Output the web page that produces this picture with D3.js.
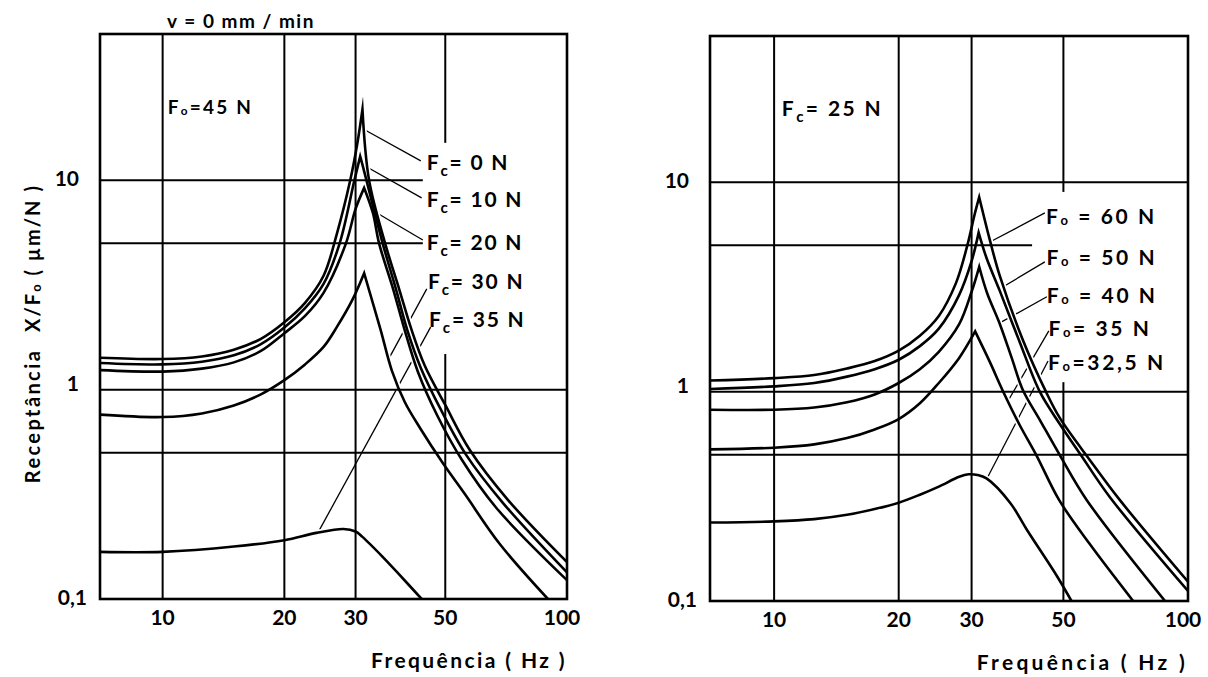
<!DOCTYPE html>
<meta charset="utf-8">
<script src="https://cdn.jsdelivr.net/npm/d3@7"></script>
<style>
  body { margin: 0; background: #fff; }
  text { font-family: Lato, "DejaVu Sans", sans-serif; font-weight: 700; fill: #000; }
</style>
<body>
<div id="chart"></div>
<script>
// axes
var freqDomain = [7, 100];
var recDomain = [0.1, 50];
var freqTicks = [10, 20, 30, 50, 100];
var freqGrid = [10, 20, 30, 50];
var recTicks = [0.1, 1, 10];
var recTickText = ["0,1", "1", "10"];
var recGrid = [0.5, 1, 5, 10];

// left panel, Fo = 45 N  -> [Hz, um/N]
var fc0 = [[7,1.42],[10,1.40],[12.5,1.44],[15,1.55],[17.5,1.75],[20,2.1],[22.5,2.6],[25,3.5],[27,5.6],
  [29.1,10],[30.3,15],[31.2,21.8],
  [32.4,10],[35.5,5],[38.5,3],[41.2,1.95],[44.5,1.3],[50,0.845],[57.5,0.515],[71.5,0.297],[100,0.15]];
var fc10 = [[7,1.34],[10,1.32],[12.5,1.36],[15,1.46],[17.5,1.65],[20,1.98],[22.5,2.45],[25,3.2],[27.4,5],
  [29.8,10],[30.8,13],
  [31.3,11.6],[35,5],[37.8,3],[40.3,1.92],[43.5,1.27],[48.8,0.80],[56.3,0.488],[69.4,0.288],[100,0.134]];
var fc20 = [[7,1.24],[10,1.22],[12.5,1.26],[15,1.35],[17.5,1.53],[20,1.86],[22.5,2.25],[25,2.9],[28.4,5],
  [30,7.3],[31.5,9.2],
  [33.1,7],[34.3,5],[37.2,3],[39.7,1.92],[42.8,1.215],[47.7,0.757],[55,0.461],[66.9,0.272],[100,0.123]];
var fc30 = [[7,0.76],[10,0.74],[12.5,0.77],[15,0.84],[17.5,0.95],[20,1.11],[22.5,1.32],[25,1.6],[27,2.0],
  [29.5,2.7],[31.5,3.6],
  [34.6,1.93],[36.9,1.23],[39.7,0.873],[43.3,0.656],[49.3,0.446],[55.9,0.317],[68.2,0.183],[89.7,0.1]];
var fc35 = [[7,0.168],[10,0.168],[15,0.178],[20,0.191],[24,0.207],[28,0.216],[30,0.21],[31.2,0.198],
  [35,0.159],[38.6,0.13],[43.7,0.1]];
var leftNames = ["= 0 N", "= 10 N", "= 20 N", "= 30 N", "= 35 N"];
var leftLabelAt = [[45,12.1],[45,8.06],[45,5.02],[45.3,3.27],[45.6,2.15]];
var leftLeaders = [[[31.5,17.5],[43.5,12.38]], [[31.2,11.9],[43.7,8.24]], [[33,7.2],[44,5.19]],
  [[45,3.03],[36.2,1.4]], [[46,1.99],[24.2,0.207]]];

// right panel, Fc = 25 N
var fo60 = [[7,1.13],[10,1.16],[12.5,1.2],[15,1.29],[17.5,1.4],[20,1.57],[22.5,1.85],[25,2.3],[27.5,3.3],
  [29.3,5],[30.5,7],[31.3,8.49],
  [33.2,5.31],[35.1,3.57],[39.9,1.766],[45.4,0.997],[49,0.749],[57.9,0.472],[68.4,0.304],[100,0.1236]];
var fo50 = [[7,1.03],[10,1.06],[12.5,1.1],[15,1.18],[17.5,1.28],[20,1.42],[22.5,1.65],[25,2.0],[28,2.9],
  [30,4.2],[31.2,5.75],
  [32.6,4.35],[35.1,3.03],[39.2,1.728],[43.87,0.997],[49,0.701],[55.1,0.498],[64.7,0.314],[100,0.1116]];
var fo40 = [[7,0.82],[10,0.82],[12.5,0.84],[15,0.89],[17.5,0.97],[20,1.1],[22.5,1.28],[25,1.55],[28,2.1],
  [30,3.0],[31.3,3.95],
  [32.7,2.96],[35.1,2.106],[37.5,1.449],[39.9,1.019],[43.87,0.732],[49,0.498],[56.9,0.304],[88,0.1]];
var fo35 = [[7,0.53],[10,0.54],[12.5,0.56],[15,0.6],[17.5,0.66],[20,0.74],[22.5,0.88],[25,1.1],[28,1.45],
  [30.6,1.94],
  [33.2,1.387],[35.8,0.997],[39.2,0.693],[43,0.498],[48.8,0.304],[57.9,0.187],[73.7,0.1]];
var fo325 = [[7,0.237],[10,0.24],[12.5,0.246],[15,0.258],[17.5,0.275],[20,0.295],[22.5,0.322],[25,0.352],
  [28,0.392],[29.5,0.403],[31,0.40],[32.6,0.385],[37.2,0.294],[40.8,0.219],[48.3,0.131],[52.3,0.1]];
var rightNames = [" = 60 N", " = 50 N", " = 40 N", "= 35 N", "=32,5 N"];
var rightLabelAt = [[45.4,6.83],[45.5,4.35],[45.6,2.87],[46,1.99],[45.9,1.37]];
var rightLeaders = [[[45.1,7.14],[33.3,5.2]], [[45.1,4.17],[35.1,3.1]], [[45.6,2.84],[35.1,2.13]],
  [[46.1,1.95],[36.7,0.9]], [[45.9,1.40],[32.8,0.39]]];

var W = 1208, H = 677;
var svg = d3.select("#chart").append("svg").attr("width", W).attr("height", H);

var panels = [
  { id: "L", box: [100, 567, 34, 599], series: [fc0, fc10, fc20, fc30, fc35],
    sharp: [true, true, true, true, false], sub: "c", names: leftNames, labelAt: leftLabelAt,
    leaders: leftLeaders, labelSpacing: 1.8,
    note: ["o", "=45 N", [10.3, 22.3], 19, 2.2],
    hEnd: {10: 44, 5: 44}, vGap: {50: [1.48, 15.1]},
    title: "Frequência  ( Hz )", titleSpacing: 2.4 },
  { id: "R", box: [710, 1188, 36, 601], series: [fo60, fo50, fo40, fo35, fo325],
    sharp: [true, true, true, true, false], sub: "o", names: rightNames, labelAt: rightLabelAt,
    leaders: rightLeaders, labelSpacing: 2.6,
    note: ["c", "= 25 N", [10.44, 22.3], 21, 2.4],
    hEnd: {5: 42}, vGap: {50: [1.11, 9]},
    title: "Frequência ( Hz )", titleSpacing: 3.3 }
];

function forceText(g, x, y, sub, rest, size, spacing) {
  var t = g.append("text").attr("x", x).attr("y", y).attr("font-size", size)
    .attr("letter-spacing", spacing);
  t.append("tspan").text("F");
  if (sub == "c") {
    t.append("tspan").attr("font-size", size * 0.72).attr("dy", size * 0.28).text("c");
    t.append("tspan").attr("dy", -size * 0.28).text(rest);
  } else {
    t.append("tspan").attr("font-size", size * 0.62).attr("dy", size * 0.04).text("o");
    t.append("tspan").attr("dy", -size * 0.04).text(rest);
  }
  return t;
}

panels.forEach(function(p) {
  var b = p.box;
  var x = d3.scaleLog().domain(freqDomain).range([b[0], b[1]]);
  var y = d3.scaleLog().domain(recDomain).range([b[3], b[2]]);
  var g = svg.append("g");

  g.append("clipPath").attr("id", "clip" + p.id).append("rect")
    .attr("x", b[0]).attr("y", b[2]).attr("width", b[1] - b[0]).attr("height", b[3] - b[2]);

  var line = d3.line().x(function(d) { return x(d[0]); }).y(function(d) { return y(d[1]); })
    .curve(d3.curveCatmullRom.alpha(0.5));

  // sharp resonance: draw the two flanks separately so the peak stays a cusp
  function curvePath(data, sharp) {
    if (!sharp) return line(data);
    var k = d3.maxIndex(data, function(d) { return d[1]; });
    var rise = line(data.slice(0, k + 1));
    var fall = line(data.slice(k));
    return rise + fall.replace(/^M[^A-Za-z]*/, "");
  }

  // leaders first, curve halos cut them
  g.selectAll(".leader").data(p.leaders).enter().append("line")
    .attr("x1", function(d) { return x(d[0][0]); }).attr("y1", function(d) { return y(d[0][1]); })
    .attr("x2", function(d) { return x(d[1][0]); }).attr("y2", function(d) { return y(d[1][1]); })
    .attr("stroke", "#000").attr("stroke-width", 1.3);

  var paths = p.series.map(function(s, i) { return curvePath(s, p.sharp[i]); });

  g.append("g").attr("clip-path", "url(#clip" + p.id + ")")
    .selectAll("path").data(paths).enter().append("path")
    .attr("d", function(d) { return d; })
    .attr("fill", "none").attr("stroke", "#fff").attr("stroke-width", 6);

  // grid
  freqGrid.forEach(function(f) {
    var segs = [[recDomain[1], recDomain[0]]];
    if (p.vGap[f]) segs = [[recDomain[1], p.vGap[f][1]], [p.vGap[f][0], recDomain[0]]];
    segs.forEach(function(s) {
      g.append("line").attr("x1", x(f)).attr("x2", x(f)).attr("y1", y(s[0])).attr("y2", y(s[1]))
        .attr("stroke", "#000").attr("stroke-width", 2);
    });
  });
  recGrid.forEach(function(v) {
    var end = p.hEnd[v] || freqDomain[1];
    g.append("line").attr("x1", x(freqDomain[0])).attr("x2", x(end)).attr("y1", y(v)).attr("y2", y(v))
      .attr("stroke", "#000").attr("stroke-width", 2);
  });

  g.append("g").attr("clip-path", "url(#clip" + p.id + ")")
    .selectAll("path").data(paths).enter().append("path")
    .attr("d", function(d) { return d; })
    .attr("fill", "none").attr("stroke", "#000").attr("stroke-width", 2.6)
    .attr("stroke-linejoin", "miter").attr("stroke-miterlimit", 12);

  g.append("rect").attr("x", b[0]).attr("y", b[2]).attr("width", b[1] - b[0]).attr("height", b[3] - b[2])
    .attr("fill", "none").attr("stroke", "#000").attr("stroke-width", 2.6);

  // ticks
  freqTicks.forEach(function(f) {
    g.append("text").attr("x", x(f) - (f == 100 ? 5 : 0)).attr("y", b[3] + 26)
      .attr("text-anchor", "middle").attr("font-size", 21).text(f);
  });
  recTicks.forEach(function(v, i) {
    g.append("text").attr("x", b[0] - (v == 0.1 ? 13 : 21)).attr("y", y(v) + 6 - (v == 1 ? 5 : 0))
      .attr("text-anchor", "end").attr("font-size", 21).text(recTickText[i]);
  });

  // curve labels
  p.names.forEach(function(n, i) {
    forceText(g, x(p.labelAt[i][0]), y(p.labelAt[i][1]) + 7, p.sub, n, 21, p.labelSpacing);
  });
  forceText(g, x(p.note[2][0]), y(p.note[2][1]) + 7, p.note[0], p.note[1], p.note[3], p.note[4]);

  g.append("text").attr("x", b[1]).attr("y", b[3] + 69).attr("text-anchor", "end")
    .attr("font-size", 21).attr("letter-spacing", p.titleSpacing).text(p.title);
});

svg.append("text").attr("x", 241).attr("y", 28).attr("text-anchor", "middle")
  .attr("font-size", 19).attr("letter-spacing", 1.5).text("v = 0 mm / min");

svg.append("text").attr("transform", "translate(40,416) rotate(-90)").attr("text-anchor", "middle")
  .attr("font-size", 20).attr("letter-spacing", 2.4).text("Receptância");

var yt = svg.append("text").attr("transform", "translate(40,258) rotate(-90)").attr("text-anchor", "middle")
  .attr("font-size", 20).attr("letter-spacing", 2);
yt.append("tspan").text("X/F");
yt.append("tspan").attr("font-size", 13).attr("dy", 1).text("o");
yt.append("tspan").attr("dy", -1).text("  ( µm/N )");
</script>
</body>
